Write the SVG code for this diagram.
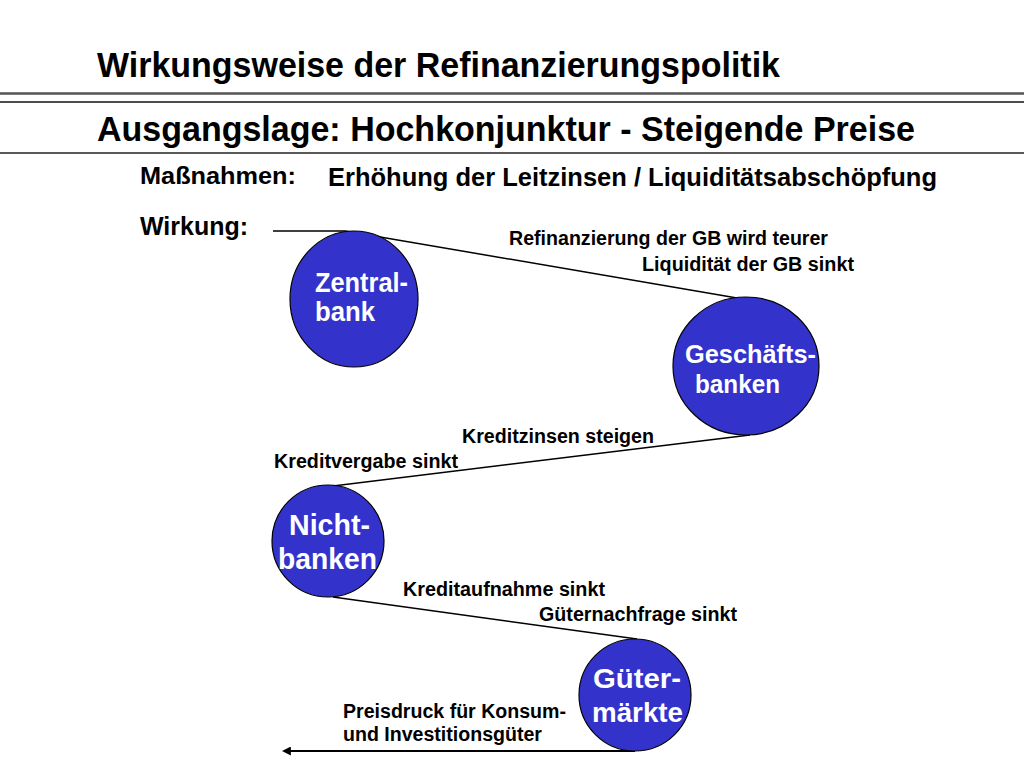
<svg xmlns="http://www.w3.org/2000/svg" width="1024" height="768" viewBox="0 0 1024 768">
  <defs>
    <style>
      text { font-family: "Liberation Sans", Arial, Helvetica, sans-serif; font-weight: bold; }
      .title { font-size: 35px; fill: #000; }
      .head { font-size: 24px; fill: #000; }
      .lbl { font-size: 19.5px; fill: #000; }
      .node { fill: #3333CC; stroke: #000; stroke-width: 1.2; }
      .ntxt { fill: #fff; font-size: 28px; }
      .conn { stroke: #000; stroke-width: 1.5; fill: none; }
    </style>
    <marker id="arrow" viewBox="0 0 10 10" refX="1" refY="5" markerWidth="4.5" markerHeight="4.5" orient="auto-start-reverse" markerUnits="strokeWidth">
      <path d="M0,0 L10,5 L0,10 z" fill="#000"/>
    </marker>
  </defs>
  <rect width="1024" height="768" fill="#fff"/>

  <g id="header">
    <text class="title" x="97" y="77" textLength="683" lengthAdjust="spacingAndGlyphs">Wirkungsweise der Refinanzierungspolitik</text>
    <line x1="0" y1="93.5" x2="1024" y2="93.5" stroke="#555" stroke-width="2.5"/>
    <line x1="0" y1="102" x2="1024" y2="102" stroke="#111" stroke-width="1.5"/>
    <text class="title" x="97" y="141" textLength="818" lengthAdjust="spacingAndGlyphs">Ausgangslage: Hochkonjunktur - Steigende Preise</text>
    <line x1="0" y1="153" x2="1024" y2="153" stroke="#222" stroke-width="1.5"/>
    <text class="head" x="140" y="184" style="font-size:23px" textLength="156" lengthAdjust="spacingAndGlyphs">Maßnahmen:</text>
    <text class="head" x="328" y="186" style="font-size:25px" textLength="609" lengthAdjust="spacingAndGlyphs">Erhöhung der Leitzinsen / Liquiditätsabschöpfung</text>
    <text class="head" x="140" y="235" style="font-size:25px" textLength="108" lengthAdjust="spacingAndGlyphs">Wirkung:</text>
  </g>

  <g id="connectors">
    <polyline class="conn" points="273,231 345,231 737,298"/>
    <line class="conn" x1="750" y1="435" x2="333" y2="486"/>
    <line class="conn" x1="333" y1="597" x2="637" y2="639"/>
    <line x1="635" y1="751" x2="290" y2="751" stroke="#000" stroke-width="2" marker-end="url(#arrow)"/>
  </g>

  <g id="labels">
    <text class="lbl" x="509" y="245" textLength="319" lengthAdjust="spacingAndGlyphs">Refinanzierung der GB wird teurer</text>
    <text class="lbl" x="642" y="271" textLength="212" lengthAdjust="spacingAndGlyphs">Liquidität der GB sinkt</text>
    <text class="lbl" x="462" y="443" textLength="192" lengthAdjust="spacingAndGlyphs">Kreditzinsen steigen</text>
    <text class="lbl" x="274" y="468" textLength="184" lengthAdjust="spacingAndGlyphs">Kreditvergabe sinkt</text>
    <text class="lbl" x="403" y="596" textLength="202" lengthAdjust="spacingAndGlyphs">Kreditaufnahme sinkt</text>
    <text class="lbl" x="539" y="621" textLength="198" lengthAdjust="spacingAndGlyphs">Güternachfrage sinkt</text>
    <text class="lbl" x="343" y="718" textLength="223" lengthAdjust="spacingAndGlyphs">Preisdruck für Konsum-</text>
    <text class="lbl" x="343" y="741" textLength="199" lengthAdjust="spacingAndGlyphs">und Investitionsgüter</text>
  </g>

  <g id="node-zentralbank">
    <ellipse class="node" cx="354" cy="299" rx="64" ry="68"/>
    <text class="ntxt" x="315" y="292" style="font-size:27px" textLength="93" lengthAdjust="spacingAndGlyphs">Zentral-</text>
    <text class="ntxt" x="315" y="321" style="font-size:27px" textLength="60" lengthAdjust="spacingAndGlyphs">bank</text>
  </g>

  <g id="node-geschaeftsbanken">
    <ellipse class="node" cx="746" cy="366" rx="73" ry="69"/>
    <text class="ntxt" x="685" y="363" style="font-size:26px" textLength="131" lengthAdjust="spacingAndGlyphs">Geschäfts-</text>
    <text class="ntxt" x="695" y="393" style="font-size:26px" textLength="85" lengthAdjust="spacingAndGlyphs">banken</text>
  </g>

  <g id="node-nichtbanken">
    <ellipse class="node" cx="328" cy="541" rx="56" ry="56"/>
    <text class="ntxt" x="289" y="535" style="font-size:29px" textLength="81" lengthAdjust="spacingAndGlyphs">Nicht-</text>
    <text class="ntxt" x="278" y="569" style="font-size:29px" textLength="99" lengthAdjust="spacingAndGlyphs">banken</text>
  </g>

  <g id="node-guetermaerkte">
    <ellipse class="node" cx="635" cy="695" rx="56" ry="56"/>
    <text class="ntxt" x="593" y="688" textLength="88" lengthAdjust="spacingAndGlyphs">Güter-</text>
    <text class="ntxt" x="592" y="722" textLength="91" lengthAdjust="spacingAndGlyphs">märkte</text>
  </g>
</svg>
